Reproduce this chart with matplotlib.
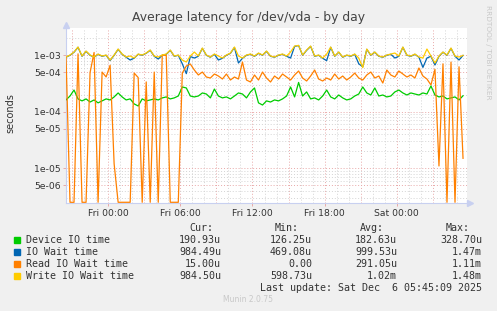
import numpy as np
import matplotlib
matplotlib.use("Agg")
from matplotlib import pyplot as plt
from matplotlib.patches import Rectangle

# samples every 20 minutes, first one at Thu 20:30 (hours relative to Fri 00:00)
t_start = -3.5
t_step = 1 / 3

# microseconds
device_io = [161, 189, 241, 168, 155, 168, 148, 161, 143, 155,
             168, 161, 182, 214, 182, 161, 168, 137, 126, 168,
             155, 161, 168, 161, 175, 182, 168, 175, 189, 273,
             262, 189, 182, 189, 214, 205, 175, 251, 189, 175,
             182, 168, 189, 214, 205, 175, 223, 262, 143, 131,
             155, 148, 161, 155, 168, 189, 273, 182, 328, 189,
             223, 168, 175, 161, 189, 241, 182, 168, 197, 175,
             161, 168, 189, 205, 273, 214, 197, 262, 189, 197,
             182, 189, 223, 241, 214, 197, 214, 205, 197, 214,
             205, 284, 197, 182, 189, 168, 175, 182, 161, 191]

io_wait = [915, 990, 1120, 1370, 950, 1160, 990, 915, 1030, 950,
           990, 800, 990, 1260, 1030, 915, 816, 880, 1030, 990,
           1075, 1210, 950, 850, 990, 1030, 1210, 950, 990, 700,
           469, 940, 885, 950, 1310, 990, 915, 1030, 816, 875,
           990, 1070, 1360, 723, 875, 990, 1030, 950, 1070, 990,
           1160, 950, 915, 990, 1030, 950, 885, 1420, 1470, 990,
           1210, 1420, 950, 990, 875, 795, 1370, 950, 1120, 915,
           990, 950, 1030, 700, 620, 1260, 990, 1120, 950, 915,
           990, 1030, 885, 950, 1370, 990, 950, 1030, 915, 605,
           885, 950, 666, 950, 1120, 990, 1310, 950, 816, 984]

read_io_wait = [950, 0, 0, 1050, 0, 0, 490, 1110, 0, 500,
                410, 660, 12, 0, 0, 0, 0, 480, 400, 0,
                335, 0, 500, 0, 1000, 980, 0, 0, 0, 480,
                640, 694, 544, 444, 501, 409, 393, 462, 426, 377,
                462, 362, 409, 377, 753, 362, 334, 444, 362, 501,
                393, 334, 426, 377, 462, 409, 362, 444, 522, 393,
                348, 426, 544, 377, 348, 393, 362, 462, 377, 426,
                362, 409, 480, 393, 362, 444, 501, 393, 426, 320,
                544, 444, 409, 522, 462, 409, 444, 393, 590, 426,
                377, 296, 560, 11, 700, 0, 750, 0, 620, 15]

write_io_wait = [922, 1000, 1130, 1384, 960, 1176, 1000, 922, 1041, 960,
                 1000, 816, 1000, 1276, 1041, 922, 960, 885, 1041, 1000,
                 1084, 1225, 960, 922, 1000, 1041, 1225, 960, 1000, 816,
                 753, 960, 1130, 960, 1329, 1000, 922, 1041, 960, 885,
                 1000, 1084, 1384, 960, 885, 1000, 1041, 960, 1084, 1000,
                 1176, 960, 922, 1000, 1041, 960, 1130, 1441, 1480, 1000,
                 1225, 1441, 960, 1000, 885, 1041, 1384, 960, 1130, 922,
                 1000, 960, 1041, 885, 599, 1276, 1000, 1130, 960, 922,
                 1000, 1041, 1084, 960, 1384, 1000, 960, 1041, 922, 885,
                 1276, 960, 723, 960, 1130, 1000, 1329, 960, 922, 985]

series_names = ["Device IO time", "IO Wait time", "Read IO Wait time", "Write IO Wait time"]
series_colors = ["#00CC00", "#0066B3", "#FF8000", "#FFCC00"]
cur_vals = ["190.93u", "984.49u", "15.00u", "984.50u"]
min_vals = ["126.25u", "469.08u", "0.00", "598.73u"]
avg_vals = ["182.63u", "999.53u", "291.05u", "1.02m"]
max_vals = ["328.70u", "1.47m", "1.11m", "1.48m"]

x_tick_pos = [0, 6, 12, 18, 24]
x_tick_labels = ["Fri 00:00", "Fri 06:00", "Fri 12:00", "Fri 18:00", "Sat 00:00"]
y_tick_pos = [1e-3, 5e-4, 1e-4, 5e-5, 1e-5, 5e-6]
y_tick_labels = ["1e-03", "5e-04", "1e-04", "5e-05", "1e-05", "5e-06"]

W, H = 497, 311
fig = plt.figure(figsize=(W / 100, H / 100), dpi=100, facecolor="#F0F0F0")
ax = fig.add_axes([66 / W, 1 - 203 / H, (467 - 66) / W, (203 - 28) / H])
ax.set_facecolor("white")
ax.set_yscale("log")
y_lo, y_hi = 2.44e-6, 3.0e-3
ax.set_ylim(y_lo, y_hi)
ax.set_xlim(-3.5, 29.83)

# grid: red every 3h / at 1 and 5 per decade, grey otherwise
for h in range(-3, 30):
    major = h % 3 == 0
    ax.axvline(h, color="#E8A8A8" if major else "#D4D4D4", lw=0.7,
               ls=(0, (1, 2)), zorder=0)
for dec in [1e-6, 1e-5, 1e-4, 1e-3]:
    for m in range(1, 10):
        v = dec * m
        if y_lo < v < y_hi:
            major = m in (1, 5)
            ax.axhline(v, color="#E8A8A8" if major else "#D4D4D4", lw=0.7,
                       ls=(0, (1, 2)), zorder=0)

t = t_start + t_step * np.arange(len(device_io))
floor = y_lo * 1.03
data = [device_io, io_wait, read_io_wait, write_io_wait]
for vals, col in zip(data, series_colors):
    v = np.array(vals, dtype=float) / 1e6
    v = np.where(v > 0, v, floor)
    ax.plot(t, v, color=col, lw=0.9, zorder=3)

for s in ["top", "right"]:
    ax.spines[s].set_visible(False)
axis_col = "#C8D0F0"
for s in ["left", "bottom"]:
    ax.spines[s].set_color(axis_col)
    ax.spines[s].set_linewidth(0.8)
ax.plot([0], [1 + 3 / 175], marker="^", ms=4.5, color=axis_col,
        transform=ax.transAxes, clip_on=False)
ax.plot([1 + 3 / 401], [0], marker=">", ms=4.5, color=axis_col,
        transform=ax.transAxes, clip_on=False)

ax.set_xticks(x_tick_pos)
ax.set_xticklabels(x_tick_labels)
ax.set_yticks(y_tick_pos)
ax.set_yticklabels(y_tick_labels)
ax.yaxis.set_minor_locator(matplotlib.ticker.NullLocator())
ax.tick_params(axis="both", labelsize=6.7, colors="#E8A8A8", labelcolor="#333333",
               length=2, width=0.7, pad=2)

fig.text(248.5 / W, 1 - 18 / H, "Average latency for /dev/vda - by day",
         ha="center", va="center", fontsize=8.9, color="#444444")
fig.text(10 / W, 1 - 113 / H, "seconds", rotation=90, ha="center", va="center",
         fontsize=7, color="#333333")
fig.text(488 / W, 1 - 5 / H, "RRDTOOL / TOBI OETIKER", rotation=270, ha="center",
         va="top", fontsize=5.3, color="#C8C8C8")

mono = dict(family="DejaVu Sans Mono", fontsize=7.2, color="#333333", va="center")
head_y = 228
for label, xr in zip(["Cur:", "Min:", "Avg:", "Max:"], [213, 299, 384, 470]):
    fig.text(xr / W, 1 - head_y / H, label, ha="right", **mono)
for k in range(4):
    y = 240 + 12 * k
    fig.patches.append(Rectangle((14 / W, 1 - (y + 3) / H), 6 / W, 6 / H,
                                 transform=fig.transFigure, color=series_colors[k]))
    fig.text(26 / W, 1 - y / H, series_names[k], ha="left", **mono)
    for val, xr in zip([cur_vals[k], min_vals[k], avg_vals[k], max_vals[k]],
                       [221, 312, 397, 482]):
        fig.text(xr / W, 1 - y / H, val, ha="right", **mono)
fig.text(482 / W, 1 - 288 / H, "Last update: Sat Dec  6 05:45:09 2025", ha="right", **mono)
fig.text(248 / W, 1 - 300 / H, "Munin 2.0.75", ha="center", va="center",
         fontsize=5.5, color="#C8C8C8")

fig.savefig("out.png", dpi=100, facecolor=fig.get_facecolor())
